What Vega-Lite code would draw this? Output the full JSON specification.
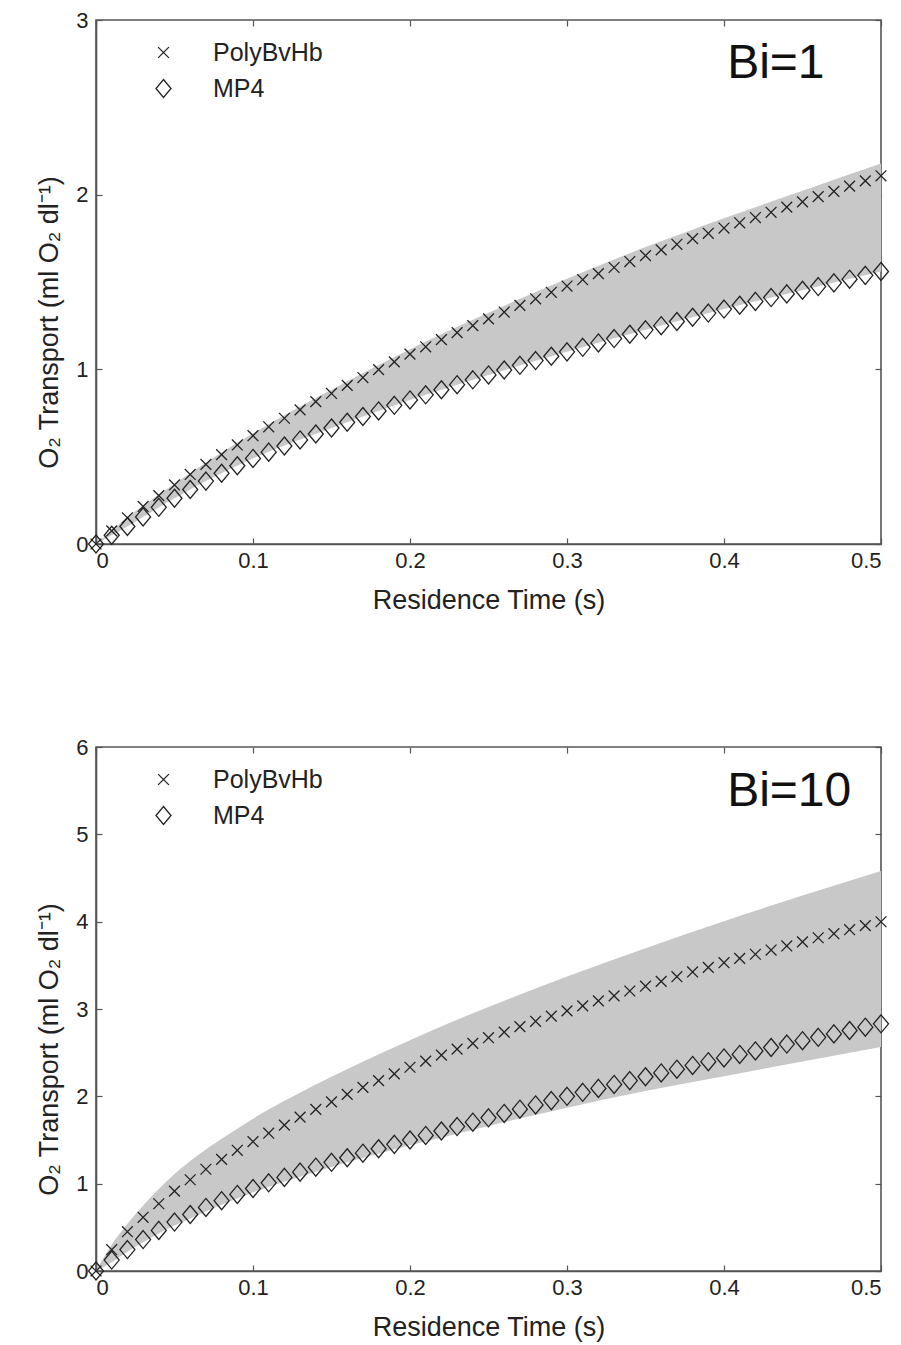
{
"$schema": "https://vega.github.io/schema/vega-lite/v6.json",
"background": "white",
"padding": {"left": 34, "top": 8, "right": 15, "bottom": 5},
"spacing": 121,
"config": {
  "font": "Liberation Sans",
  "view": {"stroke": "#555", "strokeWidth": 1.6},
  "axis": {"grid": false, "domainColor": "#555", "domainWidth": 1.6, "tickColor": "#555", "tickWidth": 1.2, "tickSize": -6, "labelFontSize": 22, "labelColor": "#222", "titleFontSize": 27, "titleColor": "#222", "titleFontWeight": "normal", "labelFont": "Liberation Sans", "titleFont": "Liberation Sans"},
  "axisX": {"labelPadding": 12, "titlePadding": 16},
  "axisY": {"labelPadding": 14, "titlePadding": 12},
  "legend": {"labelFontSize": 25, "labelColor": "#222", "labelFont": "Liberation Sans", "symbolStrokeColor": "#222", "symbolStrokeWidth": 1.3, "symbolSize": 225, "padding": 0, "rowPadding": 10, "labelOffset": 37}
},
"datasets": {
  "band": [
    {"p":1,"t":0,"lo":0,"hi":0},{"p":1,"t":0.01,"lo":0.05,"hi":0.077},{"p":1,"t":0.02,"lo":0.10,"hi":0.153},{"p":1,"t":0.03,"lo":0.155,"hi":0.219},{"p":1,"t":0.05,"lo":0.262,"hi":0.345},{"p":1,"t":0.075,"lo":0.383,"hi":0.495},{"p":1,"t":0.1,"lo":0.49,"hi":0.634},{"p":1,"t":0.15,"lo":0.664,"hi":0.883},{"p":1,"t":0.2,"lo":0.825,"hi":1.115},{"p":1,"t":0.25,"lo":0.968,"hi":1.324},{"p":1,"t":0.3,"lo":1.10,"hi":1.519},{"p":1,"t":0.35,"lo":1.226,"hi":1.700},{"p":1,"t":0.4,"lo":1.345,"hi":1.865},{"p":1,"t":0.45,"lo":1.453,"hi":2.022},{"p":1,"t":0.5,"lo":1.56,"hi":2.178},
    {"p":10,"t":0,"lo":0,"hi":0},{"p":10,"t":0.01,"lo":0.10,"hi":0.30},{"p":10,"t":0.02,"lo":0.22,"hi":0.54},{"p":10,"t":0.03,"lo":0.33,"hi":0.75},{"p":10,"t":0.04,"lo":0.43,"hi":0.94},{"p":10,"t":0.05,"lo":0.52,"hi":1.11},{"p":10,"t":0.06,"lo":0.60,"hi":1.26},{"p":10,"t":0.075,"lo":0.72,"hi":1.455},{"p":10,"t":0.09,"lo":0.83,"hi":1.63},{"p":10,"t":0.1,"lo":0.90,"hi":1.744},{"p":10,"t":0.125,"lo":1.05,"hi":1.994},{"p":10,"t":0.15,"lo":1.19,"hi":2.224},{"p":10,"t":0.175,"lo":1.32,"hi":2.44},{"p":10,"t":0.2,"lo":1.44,"hi":2.643},{"p":10,"t":0.225,"lo":1.55,"hi":2.84},{"p":10,"t":0.25,"lo":1.66,"hi":3.022},{"p":10,"t":0.3,"lo":1.87,"hi":3.371},{"p":10,"t":0.35,"lo":2.06,"hi":3.697},{"p":10,"t":0.4,"lo":2.23,"hi":4.006},{"p":10,"t":0.45,"lo":2.40,"hi":4.299},{"p":10,"t":0.5,"lo":2.565,"hi":4.58}
  ],
  "notes": [
    {"p":1,"t":0.402,"v":2.668,"label":"Bi=1"},
    {"p":10,"t":0.402,"v":5.324,"label":"Bi=10"}
  ],
  "pts": [
    {"p":1,"s":"PolyBvHb","t":0,"v":0},{"p":1,"s":"PolyBvHb","t":0.01,"v":0.075},{"p":1,"s":"PolyBvHb","t":0.02,"v":0.15},{"p":1,"s":"PolyBvHb","t":0.03,"v":0.215},{"p":1,"s":"PolyBvHb","t":0.04,"v":0.277},{"p":1,"s":"PolyBvHb","t":0.05,"v":0.338},{"p":1,"s":"PolyBvHb","t":0.06,"v":0.398},{"p":1,"s":"PolyBvHb","t":0.07,"v":0.456},{"p":1,"s":"PolyBvHb","t":0.08,"v":0.512},{"p":1,"s":"PolyBvHb","t":0.09,"v":0.567},{"p":1,"s":"PolyBvHb","t":0.1,"v":0.62},
    {"p":1,"s":"PolyBvHb","t":0.11,"v":0.671},{"p":1,"s":"PolyBvHb","t":0.12,"v":0.72},{"p":1,"s":"PolyBvHb","t":0.13,"v":0.768},{"p":1,"s":"PolyBvHb","t":0.14,"v":0.815},{"p":1,"s":"PolyBvHb","t":0.15,"v":0.862},{"p":1,"s":"PolyBvHb","t":0.16,"v":0.908},{"p":1,"s":"PolyBvHb","t":0.17,"v":0.953},{"p":1,"s":"PolyBvHb","t":0.18,"v":0.998},{"p":1,"s":"PolyBvHb","t":0.19,"v":1.043},{"p":1,"s":"PolyBvHb","t":0.2,"v":1.087},
    {"p":1,"s":"PolyBvHb","t":0.21,"v":1.129},{"p":1,"s":"PolyBvHb","t":0.22,"v":1.170},{"p":1,"s":"PolyBvHb","t":0.23,"v":1.210},{"p":1,"s":"PolyBvHb","t":0.24,"v":1.250},{"p":1,"s":"PolyBvHb","t":0.25,"v":1.289},{"p":1,"s":"PolyBvHb","t":0.26,"v":1.328},{"p":1,"s":"PolyBvHb","t":0.27,"v":1.366},{"p":1,"s":"PolyBvHb","t":0.28,"v":1.404},{"p":1,"s":"PolyBvHb","t":0.29,"v":1.441},{"p":1,"s":"PolyBvHb","t":0.3,"v":1.477},
    {"p":1,"s":"PolyBvHb","t":0.31,"v":1.513},{"p":1,"s":"PolyBvHb","t":0.32,"v":1.548},{"p":1,"s":"PolyBvHb","t":0.33,"v":1.583},{"p":1,"s":"PolyBvHb","t":0.34,"v":1.617},{"p":1,"s":"PolyBvHb","t":0.35,"v":1.651},{"p":1,"s":"PolyBvHb","t":0.36,"v":1.684},{"p":1,"s":"PolyBvHb","t":0.37,"v":1.716},{"p":1,"s":"PolyBvHb","t":0.38,"v":1.748},{"p":1,"s":"PolyBvHb","t":0.39,"v":1.779},{"p":1,"s":"PolyBvHb","t":0.4,"v":1.809},
    {"p":1,"s":"PolyBvHb","t":0.41,"v":1.839},{"p":1,"s":"PolyBvHb","t":0.42,"v":1.869},{"p":1,"s":"PolyBvHb","t":0.43,"v":1.899},{"p":1,"s":"PolyBvHb","t":0.44,"v":1.929},{"p":1,"s":"PolyBvHb","t":0.45,"v":1.959},{"p":1,"s":"PolyBvHb","t":0.46,"v":1.989},{"p":1,"s":"PolyBvHb","t":0.47,"v":2.019},{"p":1,"s":"PolyBvHb","t":0.48,"v":2.049},{"p":1,"s":"PolyBvHb","t":0.49,"v":2.079},{"p":1,"s":"PolyBvHb","t":0.5,"v":2.108},
    {"p":1,"s":"MP4","t":0,"v":0},{"p":1,"s":"MP4","t":0.01,"v":0.05},{"p":1,"s":"MP4","t":0.02,"v":0.10},{"p":1,"s":"MP4","t":0.03,"v":0.155},{"p":1,"s":"MP4","t":0.04,"v":0.21},{"p":1,"s":"MP4","t":0.05,"v":0.262},{"p":1,"s":"MP4","t":0.06,"v":0.312},{"p":1,"s":"MP4","t":0.07,"v":0.36},{"p":1,"s":"MP4","t":0.08,"v":0.405},{"p":1,"s":"MP4","t":0.09,"v":0.448},{"p":1,"s":"MP4","t":0.1,"v":0.49},
    {"p":1,"s":"MP4","t":0.11,"v":0.526},{"p":1,"s":"MP4","t":0.12,"v":0.561},{"p":1,"s":"MP4","t":0.13,"v":0.596},{"p":1,"s":"MP4","t":0.14,"v":0.630},{"p":1,"s":"MP4","t":0.15,"v":0.664},{"p":1,"s":"MP4","t":0.16,"v":0.697},{"p":1,"s":"MP4","t":0.17,"v":0.730},{"p":1,"s":"MP4","t":0.18,"v":0.762},{"p":1,"s":"MP4","t":0.19,"v":0.794},{"p":1,"s":"MP4","t":0.2,"v":0.825},
    {"p":1,"s":"MP4","t":0.21,"v":0.854},{"p":1,"s":"MP4","t":0.22,"v":0.883},{"p":1,"s":"MP4","t":0.23,"v":0.912},{"p":1,"s":"MP4","t":0.24,"v":0.940},{"p":1,"s":"MP4","t":0.25,"v":0.968},{"p":1,"s":"MP4","t":0.26,"v":0.996},{"p":1,"s":"MP4","t":0.27,"v":1.023},{"p":1,"s":"MP4","t":0.28,"v":1.050},{"p":1,"s":"MP4","t":0.29,"v":1.075},{"p":1,"s":"MP4","t":0.3,"v":1.100},
    {"p":1,"s":"MP4","t":0.31,"v":1.126},{"p":1,"s":"MP4","t":0.32,"v":1.151},{"p":1,"s":"MP4","t":0.33,"v":1.176},{"p":1,"s":"MP4","t":0.34,"v":1.201},{"p":1,"s":"MP4","t":0.35,"v":1.226},{"p":1,"s":"MP4","t":0.36,"v":1.250},{"p":1,"s":"MP4","t":0.37,"v":1.274},{"p":1,"s":"MP4","t":0.38,"v":1.298},{"p":1,"s":"MP4","t":0.39,"v":1.322},{"p":1,"s":"MP4","t":0.4,"v":1.345},
    {"p":1,"s":"MP4","t":0.41,"v":1.367},{"p":1,"s":"MP4","t":0.42,"v":1.389},{"p":1,"s":"MP4","t":0.43,"v":1.411},{"p":1,"s":"MP4","t":0.44,"v":1.432},{"p":1,"s":"MP4","t":0.45,"v":1.453},{"p":1,"s":"MP4","t":0.46,"v":1.474},{"p":1,"s":"MP4","t":0.47,"v":1.495},{"p":1,"s":"MP4","t":0.48,"v":1.516},{"p":1,"s":"MP4","t":0.49,"v":1.538},{"p":1,"s":"MP4","t":0.5,"v":1.560},
    {"p":10,"s":"PolyBvHb","t":0,"v":0},{"p":10,"s":"PolyBvHb","t":0.01,"v":0.244},{"p":10,"s":"PolyBvHb","t":0.02,"v":0.45},{"p":10,"s":"PolyBvHb","t":0.03,"v":0.615},{"p":10,"s":"PolyBvHb","t":0.04,"v":0.77},{"p":10,"s":"PolyBvHb","t":0.05,"v":0.915},{"p":10,"s":"PolyBvHb","t":0.06,"v":1.045},{"p":10,"s":"PolyBvHb","t":0.07,"v":1.165},{"p":10,"s":"PolyBvHb","t":0.08,"v":1.278},{"p":10,"s":"PolyBvHb","t":0.09,"v":1.382},{"p":10,"s":"PolyBvHb","t":0.1,"v":1.482},
    {"p":10,"s":"PolyBvHb","t":0.11,"v":1.578},{"p":10,"s":"PolyBvHb","t":0.12,"v":1.671},{"p":10,"s":"PolyBvHb","t":0.13,"v":1.762},{"p":10,"s":"PolyBvHb","t":0.14,"v":1.850},{"p":10,"s":"PolyBvHb","t":0.15,"v":1.937},{"p":10,"s":"PolyBvHb","t":0.16,"v":2.022},{"p":10,"s":"PolyBvHb","t":0.17,"v":2.102},{"p":10,"s":"PolyBvHb","t":0.18,"v":2.180},{"p":10,"s":"PolyBvHb","t":0.19,"v":2.257},{"p":10,"s":"PolyBvHb","t":0.2,"v":2.333},
    {"p":10,"s":"PolyBvHb","t":0.21,"v":2.403},{"p":10,"s":"PolyBvHb","t":0.22,"v":2.472},{"p":10,"s":"PolyBvHb","t":0.23,"v":2.540},{"p":10,"s":"PolyBvHb","t":0.24,"v":2.606},{"p":10,"s":"PolyBvHb","t":0.25,"v":2.671},{"p":10,"s":"PolyBvHb","t":0.26,"v":2.735},{"p":10,"s":"PolyBvHb","t":0.27,"v":2.798},{"p":10,"s":"PolyBvHb","t":0.28,"v":2.859},{"p":10,"s":"PolyBvHb","t":0.29,"v":2.919},{"p":10,"s":"PolyBvHb","t":0.3,"v":2.978},
    {"p":10,"s":"PolyBvHb","t":0.31,"v":3.036},{"p":10,"s":"PolyBvHb","t":0.32,"v":3.093},{"p":10,"s":"PolyBvHb","t":0.33,"v":3.150},{"p":10,"s":"PolyBvHb","t":0.34,"v":3.206},{"p":10,"s":"PolyBvHb","t":0.35,"v":3.261},{"p":10,"s":"PolyBvHb","t":0.36,"v":3.316},{"p":10,"s":"PolyBvHb","t":0.37,"v":3.370},{"p":10,"s":"PolyBvHb","t":0.38,"v":3.424},{"p":10,"s":"PolyBvHb","t":0.39,"v":3.477},{"p":10,"s":"PolyBvHb","t":0.4,"v":3.530},
    {"p":10,"s":"PolyBvHb","t":0.41,"v":3.579},{"p":10,"s":"PolyBvHb","t":0.42,"v":3.627},{"p":10,"s":"PolyBvHb","t":0.43,"v":3.675},{"p":10,"s":"PolyBvHb","t":0.44,"v":3.722},{"p":10,"s":"PolyBvHb","t":0.45,"v":3.769},{"p":10,"s":"PolyBvHb","t":0.46,"v":3.816},{"p":10,"s":"PolyBvHb","t":0.47,"v":3.862},{"p":10,"s":"PolyBvHb","t":0.48,"v":3.908},{"p":10,"s":"PolyBvHb","t":0.49,"v":3.954},{"p":10,"s":"PolyBvHb","t":0.5,"v":3.999},
    {"p":10,"s":"MP4","t":0,"v":0},{"p":10,"s":"MP4","t":0.01,"v":0.125},{"p":10,"s":"MP4","t":0.02,"v":0.245},{"p":10,"s":"MP4","t":0.03,"v":0.36},{"p":10,"s":"MP4","t":0.04,"v":0.465},{"p":10,"s":"MP4","t":0.05,"v":0.56},{"p":10,"s":"MP4","t":0.06,"v":0.647},{"p":10,"s":"MP4","t":0.07,"v":0.728},{"p":10,"s":"MP4","t":0.08,"v":0.805},{"p":10,"s":"MP4","t":0.09,"v":0.877},{"p":10,"s":"MP4","t":0.1,"v":0.945},
    {"p":10,"s":"MP4","t":0.11,"v":1.010},{"p":10,"s":"MP4","t":0.12,"v":1.072},{"p":10,"s":"MP4","t":0.13,"v":1.132},{"p":10,"s":"MP4","t":0.14,"v":1.189},{"p":10,"s":"MP4","t":0.15,"v":1.244},{"p":10,"s":"MP4","t":0.16,"v":1.297},{"p":10,"s":"MP4","t":0.17,"v":1.349},{"p":10,"s":"MP4","t":0.18,"v":1.400},{"p":10,"s":"MP4","t":0.19,"v":1.450},{"p":10,"s":"MP4","t":0.2,"v":1.500},
    {"p":10,"s":"MP4","t":0.21,"v":1.552},{"p":10,"s":"MP4","t":0.22,"v":1.603},{"p":10,"s":"MP4","t":0.23,"v":1.654},{"p":10,"s":"MP4","t":0.24,"v":1.704},{"p":10,"s":"MP4","t":0.25,"v":1.754},{"p":10,"s":"MP4","t":0.26,"v":1.804},{"p":10,"s":"MP4","t":0.27,"v":1.853},{"p":10,"s":"MP4","t":0.28,"v":1.902},{"p":10,"s":"MP4","t":0.29,"v":1.951},{"p":10,"s":"MP4","t":0.3,"v":2.000},
    {"p":10,"s":"MP4","t":0.31,"v":2.046},{"p":10,"s":"MP4","t":0.32,"v":2.091},{"p":10,"s":"MP4","t":0.33,"v":2.136},{"p":10,"s":"MP4","t":0.34,"v":2.180},{"p":10,"s":"MP4","t":0.35,"v":2.224},{"p":10,"s":"MP4","t":0.36,"v":2.268},{"p":10,"s":"MP4","t":0.37,"v":2.311},{"p":10,"s":"MP4","t":0.38,"v":2.354},{"p":10,"s":"MP4","t":0.39,"v":2.397},{"p":10,"s":"MP4","t":0.4,"v":2.440},
    {"p":10,"s":"MP4","t":0.41,"v":2.480},{"p":10,"s":"MP4","t":0.42,"v":2.520},{"p":10,"s":"MP4","t":0.43,"v":2.559},{"p":10,"s":"MP4","t":0.44,"v":2.598},{"p":10,"s":"MP4","t":0.45,"v":2.637},{"p":10,"s":"MP4","t":0.46,"v":2.676},{"p":10,"s":"MP4","t":0.47,"v":2.715},{"p":10,"s":"MP4","t":0.48,"v":2.754},{"p":10,"s":"MP4","t":0.49,"v":2.792},{"p":10,"s":"MP4","t":0.5,"v":2.830}
  ]
},
"resolve": {"scale": {"shape": "independent"}, "legend": {"shape": "independent"}},
"vconcat": [
  {
    "width": 785, "height": 524,
    "resolve": {"axis": {"x": "independent", "y": "independent"}},
    "layer": [
      {
        "data": {"name": "band"},
        "transform": [{"filter": "datum.p == 1"}],
        "mark": {"type": "area", "color": "#c8c8c8", "opacity": 1, "interpolate": "monotone"},
        "encoding": {
          "x": {"field": "t", "type": "quantitative", "scale": {"domain": [0, 0.5], "nice": false}, "axis": {"orient": "bottom", "values": [0, 0.1, 0.2, 0.3, 0.4, 0.5], "format": "~g", "title": "Residence Time (s)"}},
          "y": {"field": "hi", "type": "quantitative", "scale": {"domain": [0, 3], "nice": false}, "axis": {"orient": "left", "values": [0, 1, 2, 3], "format": "~g", "title": "O₂ Transport (ml O₂ dl⁻¹)", "titleY": 302}},
          "y2": {"field": "lo"}
        }
      },
      {
        "data": {"name": "pts"},
        "transform": [{"filter": "datum.p == 1"}],
        "mark": {"type": "point", "filled": false, "color": "#222", "strokeWidth": 1.3, "opacity": 1, "size": 225},
        "encoding": {
          "x": {"field": "t", "type": "quantitative", "scale": {"domain": [0, 0.5], "nice": false}, "axis": {"orient": "top", "values": [0, 0.1, 0.2, 0.3, 0.4, 0.5], "labels": false, "title": null, "domain": false}},
          "y": {"field": "v", "type": "quantitative", "scale": {"domain": [0, 3], "nice": false}, "axis": {"orient": "right", "values": [0, 1, 2, 3], "labels": false, "title": null, "domain": false}},
          "shape": {"field": "s", "type": "nominal", "scale": {"domain": ["PolyBvHb", "MP4"], "range": ["M-0.72,-0.72L0.72,0.72M-0.72,0.72L0.72,-0.72", "M0,-1.2L1,0L0,1.2L-1,0Z"]}, "legend": {"title": null, "orient": "none", "legendX": 55, "legendY": 20}}
        }
      },
      {
        "data": {"name": "notes"},
        "transform": [{"filter": "datum.p == 1"}],
        "mark": {"type": "text", "fontSize": 48, "align": "left", "baseline": "alphabetic", "color": "#111", "font": "Liberation Sans"},
        "encoding": {
          "x": {"field": "t", "type": "quantitative", "scale": {"domain": [0, 0.5], "nice": false}, "axis": null},
          "y": {"field": "v", "type": "quantitative", "scale": {"domain": [0, 3], "nice": false}, "axis": null},
          "text": {"field": "label"}
        }
      }
    ]
  },
  {
    "width": 785, "height": 524,
    "resolve": {"axis": {"x": "independent", "y": "independent"}},
    "layer": [
      {
        "data": {"name": "band"},
        "transform": [{"filter": "datum.p == 10"}],
        "mark": {"type": "area", "color": "#c8c8c8", "opacity": 1, "interpolate": "monotone"},
        "encoding": {
          "x": {"field": "t", "type": "quantitative", "scale": {"domain": [0, 0.5], "nice": false}, "axis": {"orient": "bottom", "values": [0, 0.1, 0.2, 0.3, 0.4, 0.5], "format": "~g", "title": "Residence Time (s)"}},
          "y": {"field": "hi", "type": "quantitative", "scale": {"domain": [0, 6], "nice": false}, "axis": {"orient": "left", "values": [0, 1, 2, 3, 4, 5, 6], "format": "~g", "title": "O₂ Transport (ml O₂ dl⁻¹)", "titleY": 302}},
          "y2": {"field": "lo"}
        }
      },
      {
        "data": {"name": "pts"},
        "transform": [{"filter": "datum.p == 10"}],
        "mark": {"type": "point", "filled": false, "color": "#222", "strokeWidth": 1.3, "opacity": 1, "size": 225},
        "encoding": {
          "x": {"field": "t", "type": "quantitative", "scale": {"domain": [0, 0.5], "nice": false}, "axis": {"orient": "top", "values": [0, 0.1, 0.2, 0.3, 0.4, 0.5], "labels": false, "title": null, "domain": false}},
          "y": {"field": "v", "type": "quantitative", "scale": {"domain": [0, 6], "nice": false}, "axis": {"orient": "right", "values": [0, 1, 2, 3, 4, 5, 6], "labels": false, "title": null, "domain": false}},
          "shape": {"field": "s", "type": "nominal", "scale": {"domain": ["PolyBvHb", "MP4"], "range": ["M-0.72,-0.72L0.72,0.72M-0.72,0.72L0.72,-0.72", "M0,-1.2L1,0L0,1.2L-1,0Z"]}, "legend": {"title": null, "orient": "none", "legendX": 55, "legendY": 20}}
        }
      },
      {
        "data": {"name": "notes"},
        "transform": [{"filter": "datum.p == 10"}],
        "mark": {"type": "text", "fontSize": 48, "align": "left", "baseline": "alphabetic", "color": "#111", "font": "Liberation Sans"},
        "encoding": {
          "x": {"field": "t", "type": "quantitative", "scale": {"domain": [0, 0.5], "nice": false}, "axis": null},
          "y": {"field": "v", "type": "quantitative", "scale": {"domain": [0, 6], "nice": false}, "axis": null},
          "text": {"field": "label"}
        }
      }
    ]
  }
]
}
